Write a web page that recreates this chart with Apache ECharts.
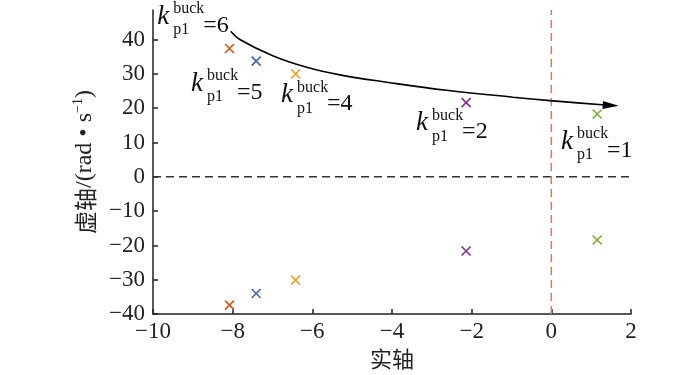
<!DOCTYPE html>
<html>
<head>
<meta charset="utf-8">
<script src="https://cdn.jsdelivr.net/npm/echarts@6/dist/echarts.min.js"></script>
<style>
html,body{margin:0;padding:0;background:#fff;}
#main{width:700px;height:375px;}
</style>
</head>
<body>
<div id="main"></div>
<script>
// ---- data ----
const xTicks = [-10, -8, -6, -4, -2, 0, 2];
const yTicks = [-40, -30, -20, -10, 0, 10, 20, 30, 40];
const xRange = [-10, 2];
const yRange = [-40, 48.6];
const kValues = ['6', '5', '4', '2', '1'];
const poleRe = [-8.08, -7.41, -6.42, -2.14, 1.15];
const poleImUpper = [37.4, 33.7, 30.0, 21.6, 18.3];
const poleImLower = [-37.4, -34.0, -30.1, -21.6, -18.4];
const trendX = [-8.05, -7.82, -6.98, -6.14, -5.31, -4.09, -2.63, -0.96, -0.03, 1.35, 1.49];
const trendY = [42.4, 40.0, 35.2, 31.9, 29.7, 27.5, 25.2, 23.2, 22.2, 20.9, 20.8];
const labelX = [-9.87, -9.02, -6.76, -3.37, 0.27];
const labelY = [44.3, 24.8, 21.4, 13.3, 7.9];
const zeroLineX = [-10, 2];
const imagAxisY = [-40, 48.6];

// ---- styles ----
const poleColors = ['#D95319', '#4463B0', '#F0A030', '#7E2F8E', '#77AC30'];
const serif = '"Liberation Serif", "Times New Roman", serif';
const cjk = '"Noto Sans CJK SC", sans-serif';
const minus = v => String(v).replace('-', '\u2212');

const chart = echarts.init(document.getElementById('main'), null, {renderer: 'canvas'});

const series = [];
series.push({
  type: 'line', silent: true, symbol: 'none',
  data: zeroLineX.map(x => [x, 0]),
  lineStyle: {color: '#333', width: 1.5, type: [8, 5]}, z: 1
});
series.push({
  type: 'line', silent: true, symbol: 'none',
  data: imagAxisY.map(y => [0, y]),
  lineStyle: {color: '#E8764A', width: 1.5, type: [8, 5]}, z: 1
});
series.push({
  type: 'line', silent: true, smooth: 0.4, symbol: 'none', showAllSymbol: true,
  data: trendX.map((x, i) => i === trendX.length - 1
    ? {value: [x, trendY[i]], symbol: 'triangle', symbolSize: [8, 16], symbolRotate: -93}
    : {value: [x, trendY[i]]}),
  lineStyle: {color: '#000', width: 1.6},
  itemStyle: {color: '#000'}, z: 3
});
kValues.forEach((k, i) => {
  series.push({
    type: 'scatter', silent: true,
    symbol: 'path://M0 0L10 10M10 0L0 10', symbolSize: 9,
    data: [[poleRe[i], poleImUpper[i]], [poleRe[i], poleImLower[i]]],
    itemStyle: {color: 'rgba(0,0,0,0)', borderColor: poleColors[i], borderWidth: 1.6, opacity: 1},
    z: 4
  });
});

const option = {
  animation: false,
  backgroundColor: '#fff',
  grid: {left: 153, right: 69, top: 10, bottom: 56, containLabel: false},
  xAxis: {
    type: 'value', min: xRange[0], max: xRange[1], interval: 2,
    name: '实轴', nameLocation: 'middle', nameGap: 33,
    nameTextStyle: {fontFamily: cjk, fontSize: 22, color: '#222'},
    axisLine: {show: true, onZero: false, lineStyle: {color: '#222', width: 1.5}},
    axisTick: {show: true, inside: true, length: 5, lineStyle: {color: '#222', width: 1.5}},
    axisLabel: {fontFamily: serif, fontSize: 23, color: '#222', margin: 6, formatter: minus},
    splitLine: {show: false}
  },
  yAxis: {
    type: 'value', min: yRange[0], max: yRange[1], interval: 10,
    name: '{cn|虚轴}{en|/(rad • s}{sup|\u22121}{en|)}', nameLocation: 'middle', nameGap: 54, nameRotate: 90,
    nameTextStyle: {
      rich: {
        cn: {fontFamily: cjk, fontSize: 23, color: '#222', lineHeight: 28},
        en: {fontFamily: serif, fontSize: 24, color: '#222', lineHeight: 28},
        sup: {fontFamily: serif, fontSize: 14, color: '#222', lineHeight: 28, verticalAlign: 'top', padding: [0, 0, 10, 0]}
      }
    },
    axisLine: {show: true, onZero: false, lineStyle: {color: '#222', width: 1.5}},
    axisTick: {show: true, inside: true, length: 5, customValues: yTicks, lineStyle: {color: '#222', width: 1.5}},
    axisLabel: {fontFamily: serif, fontSize: 23, color: '#222', margin: 8, customValues: yTicks, formatter: minus},
    splitLine: {show: false}
  },
  series: series
};
chart.setOption(option);

// ---- annotation labels k_p1^buck = n ----
function txt(x, baseline, text, fs, italic) {
  return {
    type: 'text', x: x, y: baseline - 0.3 * fs, silent: true, z: 10,
    style: {
      text: text, fontFamily: serif, fontSize: fs, fontStyle: italic ? 'italic' : 'normal',
      fill: '#111', align: 'left', verticalAlign: 'middle'
    }
  };
}
const graphics = [];
kValues.forEach((k, i) => {
  const p = chart.convertToPixel({gridIndex: 0}, [labelX[i], labelY[i]]);
  const bx = p[0], by = p[1];
  graphics.push(txt(bx - 1, by, 'k', 27, true));
  graphics.push(txt(bx + 15, by - 11, 'buck', 16, false));
  graphics.push(txt(bx + 15, by + 10, 'p1', 16, false));
  graphics.push(txt(bx + 45, by + 8, '=' + k, 24, false));
});
chart.setOption({graphic: graphics});
</script>
</body>
</html>
